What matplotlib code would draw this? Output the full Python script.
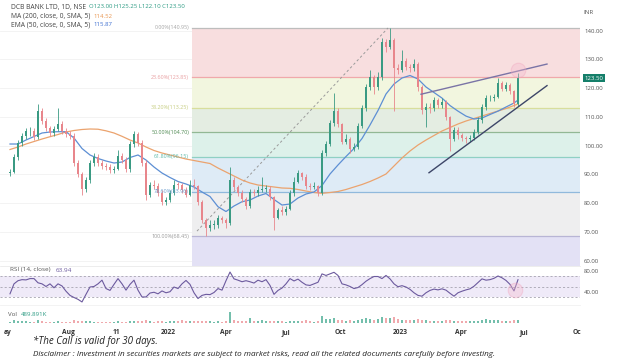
import numpy as np
import matplotlib
matplotlib.use("Agg")
import matplotlib.pyplot as plt

W, H = 620, 363

# ---------------- data ----------------
closes = [91, 96, 101, 103.5, 105, 105, 103, 112, 108.5, 106,
          104.5, 105.8, 107.5, 105, 104, 103.5, 94, 90, 85, 88,
          94, 96, 94, 92.8, 92.5, 91.5, 92, 96.5, 95, 92,
          100.5, 104, 101, 94, 83, 86.5, 86, 83.5, 80.4, 81,
          83.5, 86.5, 86.3, 84.5, 83, 86.5, 86, 80.4, 74, 71.5,
          72.5, 72.5, 74.7, 74, 73, 88, 85.5, 83.5, 81.5, 79,
          83.8, 83.5, 84.5, 85, 85, 82, 75, 77.6, 77, 78,
          83.5, 87.5, 90.5, 89, 86, 85.6, 86, 83.5, 97.5, 100.5,
          108, 112, 107.5, 101.3, 102.5, 99, 99.5, 107, 113, 120.4,
          124, 120.5, 124, 136, 134.3, 136.8, 127, 126.3, 129.5, 127.4,
          127, 128.5, 120.4, 112.4, 113.5, 113, 115.9, 114, 115.2, 110,
          102.5, 105.5, 103.7, 102.7, 102.3, 102.7, 104.8, 109, 113.5, 116.5,
          116.6, 117, 121.8, 119.8, 121.1, 119, 114.5, 123.5]
opens = [90.5, 91, 96, 101, 103.5, 105, 105, 103, 112, 108.5,
         106, 104.5, 105.8, 107.5, 105, 104, 103.5, 94, 90, 85,
         88, 94, 96, 94, 92.8, 92.5, 91.5, 92, 96.5, 95,
         92, 100.5, 104, 101, 94, 83, 86.5, 86, 83.5, 80.4,
         81, 83.5, 86.5, 86.3, 84.5, 83, 86.5, 86, 80.4, 74,
         71.5, 72.5, 72.5, 74.7, 74, 73, 88, 85.5, 83.5, 81.5,
         79, 83.8, 83.5, 84.5, 85, 85, 82, 75, 77.6, 77,
         78, 83.5, 87.5, 90.5, 89, 86, 85.6, 86, 83.5, 97.5,
         100.5, 108, 112, 107.5, 101.3, 102.5, 99, 99.5, 107, 113,
         120.4, 124, 120.5, 124, 136, 134.3, 136.8, 127, 126.3, 129.5,
         127.4, 127, 128.5, 120.4, 112.4, 113.5, 113, 115.9, 114, 115.2,
         110, 102.5, 105.5, 103.7, 102.7, 102.3, 102.7, 104.8, 109, 113.5,
         116.5, 116.6, 117, 121.8, 119.8, 121.1, 119, 114.5]
highs = [92, 97, 102, 104.5, 106, 106.5, 106, 114.5, 113, 109.5,
         107, 107, 113, 108.5, 106, 105, 104.5, 95, 91, 89,
         95, 97.5, 97, 95, 94, 93.5, 93, 98.5, 97.5, 96,
         101.5, 105, 104.8, 102, 95, 87.5, 88, 87, 84.5, 82,
         84.5, 88, 87.5, 87, 85.5, 88, 88.5, 86.5, 81, 75,
         74, 74, 76, 75.5, 75, 92.6, 89, 86.5, 84.5, 82,
         85, 85, 86, 89, 86.5, 86, 82.5, 78.5, 79, 79,
         84.5, 89, 91.5, 91, 90, 87, 87.5, 86.5, 98.5, 101.5,
         109, 118.3, 113, 108, 104, 103, 101, 108, 114, 121.5,
         126.3, 124.5, 125.5, 137.5, 137, 140.95, 137.5, 128.5, 133.3, 130.5,
         128.5, 130, 129, 121, 115, 115, 117, 116.5, 116.5, 116,
         110.5, 106.5, 106.5, 104.5, 103.5, 103.8, 105.8, 110, 114.5, 117.5,
         117.8, 118, 123.5, 122.5, 122, 121.8, 119.5, 125.25]
lows = [89.5, 90.5, 95, 100, 102.5, 103.5, 102, 102.5, 107.5, 105,
        103.5, 103.5, 105, 104, 103, 102.5, 93, 89, 83, 84,
        87, 93, 93, 92, 91.5, 90.5, 90.5, 91.5, 94, 91,
        91, 99.5, 100, 93, 81, 82, 85, 82.5, 79.5, 79.5,
        80.5, 83, 85, 83.5, 82, 82.5, 85, 79.5, 73, 68.45,
        70.5, 71, 71.5, 73, 71.5, 72.5, 84.5, 82.5, 80.5, 78,
        78.5, 82.5, 82.5, 84, 84, 81, 70.7, 74.5, 76, 76,
        77.5, 82.5, 87, 88, 85, 84.5, 85, 82.5, 83, 96.5,
        100, 107, 106.5, 100.5, 100.5, 97.5, 98, 99, 106, 112,
        119.5, 118, 119.5, 123, 132.5, 133.5, 112, 125, 125.5, 126.5,
        125.5, 126, 119, 111, 106.5, 111.5, 112, 113, 113, 109,
        98.2, 101.5, 102.5, 101.5, 101, 101.3, 102, 104, 108, 112.5,
        115.5, 115.5, 116.5, 119, 119, 118, 113.5, 113.8]
volumes_k = [700, 1400, 1100, 900, 800, 700, 600, 1600, 900, 700,
             600, 700, 800, 600, 500, 600, 1300, 900, 1200, 800,
             900, 700, 600, 500, 500, 600, 500, 800, 600, 600,
             900, 1100, 800, 1000, 1500, 900, 700, 800, 900, 700,
             800, 1200, 1000, 1400, 800, 1000, 900, 1100, 1200, 1000,
             800, 700, 900, 700, 800, 5500, 1600, 900, 1100, 900,
             2600, 1000, 800, 1300, 900, 1000, 1200, 800, 900, 700,
             900, 1000, 1200, 800, 1400, 800, 700, 900, 3600, 2000,
             2200, 2600, 1500, 1400, 1200, 1300, 1100, 1700, 1900, 2400,
             2000, 1700, 2200, 2800, 2400, 2600, 2900, 1800, 1600, 1400,
             1300, 1500, 1800, 1700, 1400, 1200, 1100, 1000, 1200, 1300,
             1400, 1000, 900, 800, 800, 900, 1000, 1200, 1400, 2200,
             1300, 1400, 1700, 1200, 1000, 1100, 1500, 1300]
rsi = [37, 56, 62, 64, 63.5, 66, 66, 58, 56, 51,
       56, 48.5, 56, 52, 42, 34, 30, 26.5, 21.5, 36,
       50, 51, 56, 63, 47, 43.5, 55, 66, 56, 44,
       55, 63, 44, 31, 31, 38.5, 40, 37, 42.5, 39,
       41, 50, 47, 56, 62.5, 55, 39, 28, 34, 36,
       35.5, 39.5, 47, 44, 62, 78.5, 65.5, 63, 60, 62,
       60, 57.5, 63, 60, 64, 53, 36, 43.5, 48, 56,
       66, 61.5, 65, 59, 54, 53, 56, 59, 75, 72,
       75, 78, 72, 56, 54, 51, 47, 49, 54.5, 61,
       66, 70, 70, 66, 72, 65.5, 56, 50.5, 52.5, 50,
       45.5, 39, 34, 32.5, 39, 43.5, 46, 44.5, 46.5, 44,
       38, 32.5, 39, 42, 44.5, 46.5, 51.5, 58.5, 65.5, 63,
       64, 66.5, 71, 67.5, 62.5, 55, 42.5, 63.94]
ema50 = [100.59, 100.59, 101.98, 103.20, 104.42, 104.77, 104.87, 104.87,
         102.68, 99.03, 96.77, 95.55, 94.68, 93.98, 94.33, 95.90,
         96.77, 95.03, 92.59, 90.50, 88.94, 87.55, 86.68, 85.64,
         83.90, 82.33, 78.78, 77.11, 79.03, 80.52, 81.11, 82.50,
         83.37, 81.29, 79.37, 79.72, 81.81, 83.20, 83.90, 86.16,
         90.16, 93.29, 96.24, 99.03, 102.50, 107.20, 112.24, 117.98,
         121.46, 123.55, 124.42, 123.20, 120.42, 118.50, 116.57, 113.97,
         112.03, 110.30, 109.29, 109.63, 110.85, 112.03, 113.46, 114.85, 115.87]
sma200 = [98.68, 99.55, 100.59, 101.46, 102.33, 103.13, 103.90, 104.77,
          105.29, 105.64, 105.81, 105.74, 105.18, 104.42, 103.27, 101.98,
          100.94, 99.55, 98.33, 97.46, 96.77, 96.07, 95.37, 94.85,
          94.33, 93.81, 92.24, 90.85, 89.46, 88.07, 87.03, 86.33,
          85.98, 85.64, 85.29, 85.18, 84.77, 84.24, 83.72, 83.44,
          83.72, 84.07, 84.77, 85.64, 86.50, 87.55, 88.77, 90.16,
          92.94, 95.72, 98.16, 100.24, 101.98, 103.55, 105.11, 106.33,
          107.55, 108.59, 109.46, 110.33, 111.20, 112.07, 112.94, 113.98, 114.52]

fib_pcts = ["0.00%", "23.60%", "38.20%", "50.00%", "61.80%", "78.60%", "100.00%"]
fib_prices = [140.95, 123.85, 113.25, 104.70, 96.15, 83.96, 68.45]
fib_anchor_prices = [70.3, 140.95]
trend_upper_prices = [117.9, 128.4]
trend_lower_prices = [90.6, 120.9]
x_tick_labels = ["ay", "Aug", "11", "2022", "Apr", "Jul", "Oct", "2023", "Apr", "Jul", "Oc"]
price_ticks = [60, 70, 80, 90, 100, 110, 120, 130, 140]
rsi_ticks = [40, 80]
rsi_levels = [70, 50, 30]
ohlc = {"O": 123.00, "H": 125.25, "L": 122.10, "C": 123.50}
ma200_last, ema50_last, rsi_last = 114.52, 115.87, 63.94
vol_last = "489.891K"

# ---------------- layout helpers (pixel positions) ----------------
candle_x = 10 + 4 * np.arange(len(closes))
ma_x = np.append(10 + 8 * np.arange(len(ema50) - 1), candle_x[-1])
x_tick_pos = [8, 68, 116, 168, 226, 286, 340, 400, 461, 524, 577]
XR = 580
FIB_X0 = 192

def fx(px):
    return px / W

def fy(py):
    return 1 - py / H

plt.rcParams['font.family'] = ['Open Sans', 'DejaVu Sans']

fig = plt.figure(figsize=(W / 100, H / 100), dpi=100)
fig.patch.set_facecolor('white')

ax = fig.add_axes([0, fy(266), XR / W, (266 - 18) / H])
rax = fig.add_axes([0, fy(305), XR / W, (305 - 266) / H])
vax = fig.add_axes([0, fy(325), XR / W, (325 - 305) / H])

for a in (ax, rax, vax):
    a.set_xlim(0, XR)
    for s in a.spines.values():
        s.set_visible(False)
    a.tick_params(length=0)

ax.set_ylim(58.16, 144.42)
rax.set_ylim(15.7, 90)
vax.set_ylim(-1000, 9000)

# gridlines
for p in price_ticks:
    ax.axhline(p, color='#f1f1f1', lw=0.6, zorder=0)

# fib bands
band_cols = ['#f8dedf', '#f2f6df', '#e4ede2', '#ddf1ea', '#deebf6', '#eeeeef', '#e3e1f5']
line_cols = ['#bdbdbd', '#f0a9ab', '#d8de9c', '#92b894', '#8fd0c4', '#90b9dc', '#b8b5d5']
label_cols = ['#a6a6a6', '#e9a0a2', '#c6cd80', '#4f8a52', '#5bb9a9', '#6e9fd0', '#9a9a9a']
bounds = fib_prices + [58.16]
for i in range(len(fib_prices)):
    ax.fill_between([FIB_X0, XR], bounds[i + 1], bounds[i], color=band_cols[i], lw=0, zorder=0.5)
    ax.plot([FIB_X0, XR], [fib_prices[i], fib_prices[i]], color=line_cols[i], lw=0.9, zorder=0.6)
    ax.text(FIB_X0 - 3, fib_prices[i], f"{fib_pcts[i]}({fib_prices[i]:.2f})",
            ha='right', va='center', fontsize=3.9, color=label_cols[i], zorder=5)

# fib anchor dashed line
ax.plot([197, 388], fib_anchor_prices, color='#9a9a9a', lw=0.7, ls=(0, (2.5, 2.5)), zorder=1)

# moving averages
ax.plot(ma_x, sma200, color='#eba36e', lw=0.9, zorder=2)
ax.plot(ma_x, ema50, color='#5d8fd4', lw=0.9, zorder=2)

# candles
o = np.array(opens); c = np.array(closes)
up = c >= o
up_col, dn_col = '#3a9a83', '#e8868c'
cols = np.where(up, up_col, dn_col)
ax.vlines(candle_x, lows, highs, colors=cols, lw=0.6, zorder=3)
ax.bar(candle_x, np.maximum(np.abs(c - o), 0.25), bottom=np.minimum(o, c),
       width=2.8, color=cols, lw=0, zorder=3.5)

# trend lines
ax.plot([421, 547], trend_upper_prices, color='#7a74a6', lw=1.0, zorder=4)
ax.plot([429, 547], trend_lower_prices, color='#3d4668', lw=1.0, zorder=4)

# highlight circle
ax.scatter([518], [126.3], s=110, facecolor='#f5b8cc', edgecolor='#f0a0bb',
           alpha=0.35, lw=0.8, zorder=5)

# price axis
ax.yaxis.tick_right()
ax.set_yticks(price_ticks)
ax.set_yticklabels([f"{p:.2f}" for p in price_ticks], fontsize=4.3, color='#555555')
ax.tick_params(axis='y', pad=3)
ax.set_xticks([])
ax.annotate(f"{ohlc['C']:.2f}", xy=(1.0, ohlc['C']), xycoords=('axes fraction', 'data'),
            xytext=(3, 0), textcoords='offset points', ha='left', va='center',
            fontsize=4.3, color='white',
            bbox=dict(boxstyle='square,pad=0.25', fc='#157f6a', ec='none'),
            annotation_clip=False, zorder=10)

# RSI panel
rax.axhspan(30, 70, color='#efeaf8', lw=0, zorder=0)
for lv in rsi_levels:
    rax.axhline(lv, color='#a6a3b0', lw=0.6, ls=(0, (2.5, 2.5)), zorder=1)
rax.plot(candle_x, rsi, color='#6c5a9e', lw=0.8, zorder=2)
rax.scatter([515], [44.3], s=110, facecolor='#f5b8cc', edgecolor='#f0a0bb',
            alpha=0.35, lw=0.8, zorder=3)
rax.yaxis.tick_right()
rax.set_yticks(rsi_ticks)
rax.set_yticklabels([f"{v:.2f}" for v in rsi_ticks], fontsize=4.3, color='#555555')
rax.tick_params(axis='y', pad=3)
rax.set_xticks([])

# Volume panel
vcols = np.where(up, '#74bfac', '#f0a9ad')
vax.bar(candle_x, volumes_k, width=2.6, color=vcols, lw=0)
vax.set_yticks([])
vax.set_xticks(x_tick_pos)
vax.set_xticklabels(x_tick_labels, fontsize=4.8, color='#333333', fontweight='bold')
vax.tick_params(axis='x', pad=3)

# separators
fig.add_artist(plt.Line2D([0, XR / W], [fy(266), fy(266)], color='#e6e6e6', lw=0.5))
fig.add_artist(plt.Line2D([0, XR / W], [fy(305), fy(305)], color='#eeeeee', lw=0.5))

renderer = fig.canvas.get_renderer()

def text_run(x_px, y_px, pieces, gap_px=3):
    x = x_px
    for s, col, fsz in pieces:
        t = fig.text(fx(x), fy(y_px), s, fontsize=fsz, color=col, va='center')
        bb = t.get_window_extent(renderer=renderer)
        x = bb.x1 + gap_px

# header texts
fl, fn = 4.9, 4.3
text_run(11, 7, [("DCB BANK LTD, 1D, NSE", '#444444', fl),
                 (f"O{ohlc['O']:.2f} H{ohlc['H']:.2f} L{ohlc['L']:.2f} C{ohlc['C']:.2f}", '#2a9a82', fn)])
text_run(11, 16, [("MA (200, close, 0, SMA, 5)", '#444444', fl), (f"{ma200_last:.2f}", '#e8954f', fn)])
text_run(11, 24.5, [("EMA (50, close, 0, SMA, 5)", '#444444', fl), (f"{ema50_last:.2f}", '#3e6fd0', fn)])
fig.text(fx(583), fy(12), "INR", fontsize=4.3, color='#555555', va='center')

text_run(10, 270, [("RSI (14, close)", '#555555', 4.6), (f"{rsi_last:.2f}", '#6c5a9e', 4.6)], 5)
text_run(8, 315, [("Vol", '#555555', 4.4), (vol_last, '#2a9a82', 4.4)], 4)

# footer
fig.text(fx(33), fy(341), "*The Call is valid for 30 days.", fontsize=7.0, style='italic',
         color='#222222', va='center')
fig.text(fx(33), fy(354), "Disclaimer : Investment in securities markets are subject to market risks, "
         "read all the related documents carefully before investing.", fontsize=5.85,
         style='italic', color='#222222', va='center')

fig.savefig("out.png", dpi=100)
